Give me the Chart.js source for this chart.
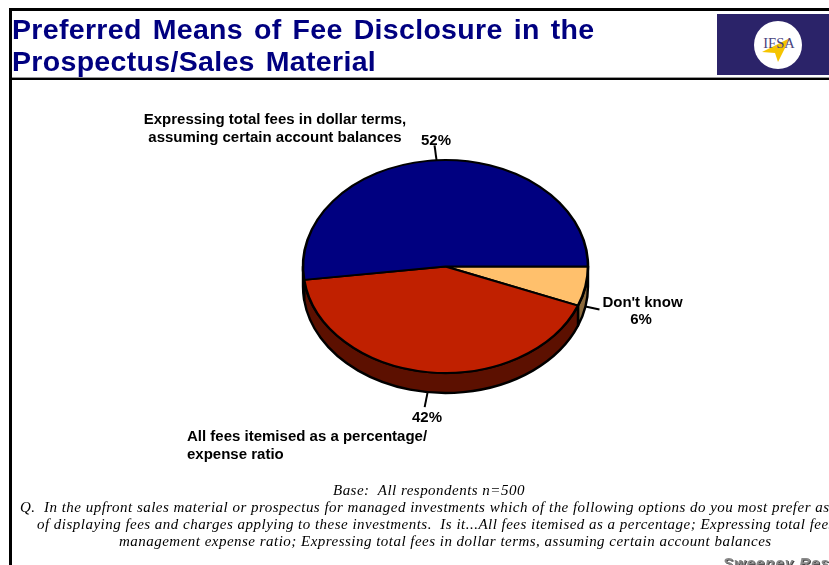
<!DOCTYPE html>
<html>
<head>
<meta charset="utf-8">
<title>Preferred Means of Fee Disclosure</title>
<script src="https://cdn.jsdelivr.net/npm/chart.js@4/dist/chart.umd.min.js"></script>
<style>
    html, body { margin: 0; padding: 0; background: #fff; }
    #page { position: relative; width: 829px; height: 565px; overflow: hidden; background: #fff; }
    #page canvas { position: absolute; left: 0; top: 0; }
    .frame { position: absolute; background: #000; }
    .title { position: absolute; left: 12px; font: bold 28.5px "Liberation Sans", Arial, sans-serif; color: #000080; letter-spacing: 0.32px; word-spacing: 2.8px; white-space: nowrap; }
    .note { position: absolute; font: italic 15px "Liberation Serif", "Times New Roman", serif; letter-spacing: 0.48px; color: #000; white-space: pre; }
    .credit { position: absolute; left: 723px; top: 554px; font: italic bold 15px "Liberation Sans", Arial, sans-serif; color: #8a8a8a; letter-spacing: 1px; text-shadow: 1px 1px 0 #444; white-space: nowrap; }
    #logo { position: absolute; left: 717px; top: 14px; }
</style>
</head>
<body>
<div id="page">
    <canvas id="feeChart" width="829" height="565"></canvas>

    <div class="frame" style="left:9px;top:8px;width:820px;height:3px"></div>
    <div class="frame" style="left:9px;top:8px;width:3px;height:557px"></div>
    <div class="frame" style="left:12px;top:77px;width:817px;height:1px;background:#999"></div>
    <div class="frame" style="left:12px;top:78px;width:817px;height:2px"></div>

    <div class="title" style="top:13px">Preferred Means of Fee Disclosure in the</div>
    <div class="title" style="top:45px">Prospectus/Sales Material</div>

    <svg id="logo" width="112" height="61">
        <rect width="112" height="61" fill="#2b2369"/>
        <circle cx="61" cy="31" r="24" fill="#fff"/>
        <polygon points="45,38 73,24 61,48 58,39" fill="#f5c400"/>
        <text x="62" y="34" text-anchor="middle" font-family="Liberation Serif" font-size="14.5" fill="#4a4580">IFSA</text>
    </svg>

    <div class="note" style="left:333px;top:482px">Base:  All respondents n=500</div>
    <div class="note" style="left:20px;top:499px">Q.  In the upfront sales material or prospectus for managed investments which of the following options do you most prefer as a</div>
    <div class="note" style="left:37px;top:516px">of displaying fees and charges applying to these investments.  Is it...All fees itemised as a percentage; Expressing total fees</div>
    <div class="note" style="left:119px;top:533px">management expense ratio; Expressing total fees in dollar terms, assuming certain account balances</div>
    <div class="credit">Sweeney Research</div>
</div>

<script>
const categoryLines = [
    ["Don't know"],
    ['All fees itemised as a percentage/', 'expense ratio'],
    ['Expressing total fees in dollar terms,', 'assuming certain account balances'],
];
const shares = [6, 42, 52];
const topColors = ['#FFC06C', '#C02000', '#000080'];
const sideColors = ['#8C6A3C', '#5C1000', '#000040'];

// squash of the pie and height of its rim
const tilt = 0.747;
const rimDepth = 20;

// leader length and label anchors, one per slice
const leaders = [
    { dx: 14, dy: 3 },
    { dx: -3, dy: 15 },
    { dx: -2, dy: -15 },
];
const labelSpots = [
    { name: [642.5, 303], value: [641, 320], align: 'center' },
    { name: [187, 437], value: [427, 418], align: 'left' },
    { name: [275, 120], value: [436, 141], align: 'center' },
];

// rim under the pie, only the front half of it shows
const rimPlugin = {
    id: 'rim',
    beforeDatasetsDraw(chart) {
        const ctx = chart.ctx;
        chart.getDatasetMeta(0).data.forEach((arc, i) => {
            const { x, y, startAngle, endAngle, outerRadius } = arc.getProps(['x', 'y', 'startAngle', 'endAngle', 'outerRadius'], true);
            const from = Math.max(startAngle, 0);
            const to = Math.min(endAngle, Math.PI);
            if (to <= from) return;
            const ry = outerRadius * tilt;
            ctx.beginPath();
            ctx.ellipse(x, y, outerRadius, ry, 0, from, to);
            ctx.ellipse(x, y + rimDepth, outerRadius, ry, 0, to, from, true);
            ctx.closePath();
            ctx.fillStyle = sideColors[i];
            ctx.strokeStyle = '#000';
            ctx.lineWidth = 2.4;
            ctx.lineJoin = 'round';
            ctx.fill();
            ctx.stroke();
        });
        // the library draws the slices as a circle, flatten it here
        const { x, y } = chart.getDatasetMeta(0).data[0];
        ctx.save();
        ctx.translate(x, y);
        ctx.scale(1, tilt);
        ctx.translate(-x, -y);
    },
    afterDatasetsDraw(chart) {
        chart.ctx.restore();
    },
};

const labelPlugin = {
    id: 'sliceLabels',
    afterDraw(chart) {
        const ctx = chart.ctx;
        ctx.save();
        ctx.font = 'bold 15px "Liberation Sans", Arial, sans-serif';
        ctx.fillStyle = '#000';
        ctx.textBaseline = 'middle';
        chart.getDatasetMeta(0).data.forEach((arc, i) => {
            const { x, y, startAngle, endAngle, outerRadius } = arc.getProps(['x', 'y', 'startAngle', 'endAngle', 'outerRadius'], true);
            const mid = (startAngle + endAngle) / 2;
            const edgeX = x + outerRadius * Math.cos(mid);
            const edgeY = y + outerRadius * tilt * Math.sin(mid) + (Math.sin(mid) > 0 ? rimDepth : 0);
            ctx.beginPath();
            ctx.moveTo(edgeX, edgeY);
            ctx.lineTo(edgeX + leaders[i].dx, edgeY + leaders[i].dy);
            ctx.lineWidth = 2;
            ctx.strokeStyle = '#000';
            ctx.stroke();

            const spot = labelSpots[i];
            ctx.textAlign = spot.align;
            categoryLines[i].forEach((line, n) => {
                ctx.fillText(line, spot.name[0], spot.name[1] + n * 18);
            });
            ctx.textAlign = 'center';
            ctx.fillText(shares[i] + '%', spot.value[0], spot.value[1]);
        });
        ctx.restore();
    },
};

new Chart(document.getElementById('feeChart'), {
    type: 'pie',
    data: {
        labels: categoryLines.map(lines => lines.join(' ')),
        datasets: [{
            data: shares,
            backgroundColor: topColors,
            borderColor: '#000',
            borderWidth: 2.6,
            radius: 142.5,
        }],
    },
    options: {
        responsive: false,
        animation: false,
        events: [],
        rotation: 90,
        layout: { padding: { left: 303, right: 241, top: 124, bottom: 156 } },
        plugins: {
            legend: { display: false },
            tooltip: { enabled: false },
        },
    },
    plugins: [rimPlugin, labelPlugin],
});
</script>
</body>
</html>
